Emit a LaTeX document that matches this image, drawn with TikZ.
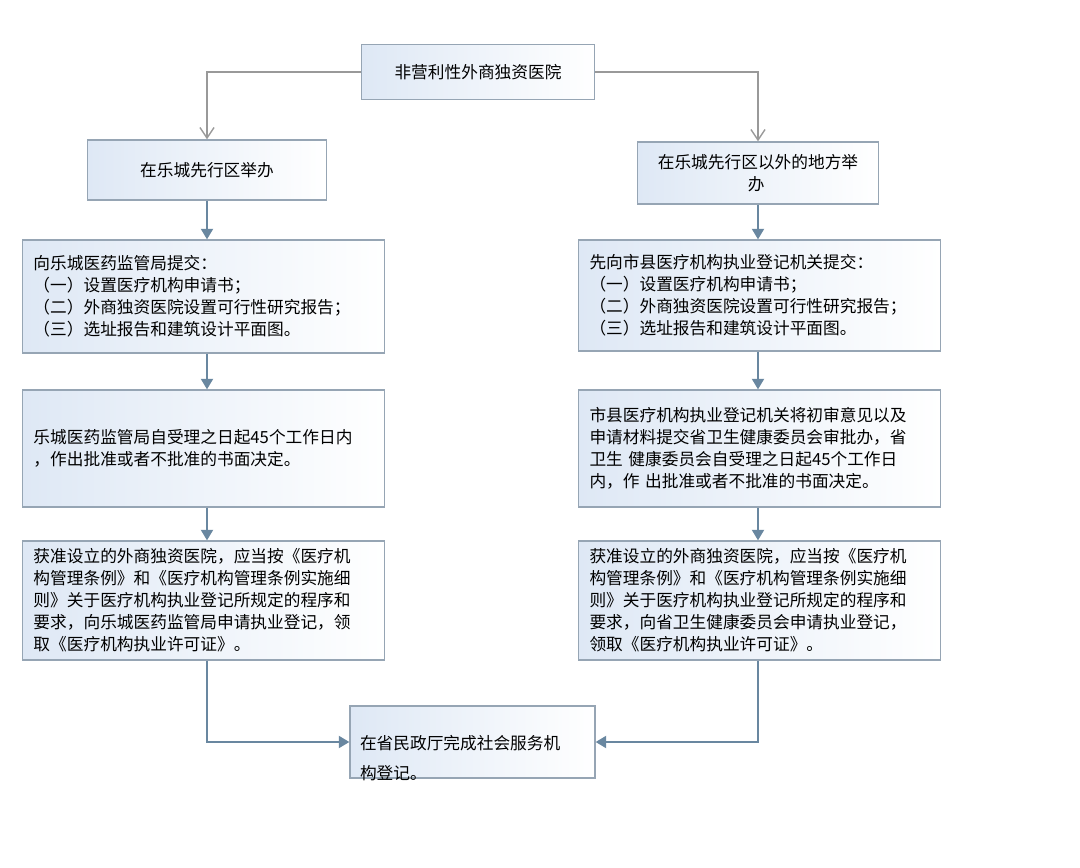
\documentclass[tikz,border=0pt]{standalone}
\usepackage{fontspec}
\setmainfont{Noto Sans CJK SC}
\usetikzlibrary{arrows.meta}
\definecolor{boxline}{RGB}{150,165,180}
\definecolor{boxfill}{RGB}{222,232,245}
\definecolor{arrowline}{RGB}{105,135,160}
\begin{document}
\begin{tikzpicture}[
    x=0.02cm, y=-0.02cm,
    every node/.style = {font=\fontsize{9.5}{12.5}\selectfont},
    stepbox/.style = {draw=boxline, thick, left color=boxfill, right color=white, inner sep=0pt},
    textbox/.style = {stepbox, align=left, text width=#1},
    openarrow/.style = {draw=gray!80, thick, -{Straight Barb[length=6pt,width=8pt]}},
    fillarrow/.style = {draw=arrowline, thick, -{Triangle[length=6pt,width=7pt]}}
    ]
    \useasboundingbox (0,0) rectangle (1080,867);
    % top and second row
    \node[stepbox, minimum width=233*0.02cm, minimum height=55*0.02cm] (hosp) at (478,72) {非营利性外商独资医院};
    \node[stepbox, minimum width=239*0.02cm, minimum height=60*0.02cm] (inLC) at (207,170) {在乐城先行区举办};
    \node[stepbox, minimum width=241*0.02cm, minimum height=62*0.02cm, align=left] (outLC) at (758,173) {在乐城先行区以外的地方举\\\hspace*{5.4em}办};
    % left column
    \node[textbox=340*0.02cm, minimum height=113*0.02cm, inner xsep=11*0.02cm] (subL) at (203.5,296.5)
        {向乐城医药监管局提交：\\（一）设置医疗机构申请书；\\（二）外商独资医院设置可行性研究报告；\\（三）选址报告和建筑设计平面图。};
    \node[textbox=340*0.02cm, minimum height=117*0.02cm, inner xsep=11*0.02cm] (decL) at (203.5,448.5)
        {乐城医药监管局自受理之日起45个工作日内\\，作出批准或者不批准的书面决定。};
    \node[textbox=340*0.02cm, minimum height=119*0.02cm, inner xsep=11*0.02cm] (regL) at (203.5,600.5)
        {获准设立的外商独资医院，应当按《医疗机\\构管理条例》和《医疗机构管理条例实施细\\则》关于医疗机构执业登记所规定的程序和\\要求，向乐城医药监管局申请执业登记，领\\取《医疗机构执业许可证》。};
    % right column
    \node[textbox=340*0.02cm, minimum height=111*0.02cm, inner xsep=11*0.02cm] (subR) at (759.5,295.5)
        {先向市县医疗机构执业登记机关提交：\\（一）设置医疗机构申请书；\\（二）外商独资医院设置可行性研究报告；\\（三）选址报告和建筑设计平面图。};
    \node[textbox=340*0.02cm, minimum height=117*0.02cm, inner xsep=11*0.02cm] (decR) at (759.5,448.5)
        {市县医疗机构执业登记机关将初审意见以及\\申请材料提交省卫生健康委员会审批办，省\\卫生 健康委员会自受理之日起45个工作日\\内，作 出批准或者不批准的书面决定。};
    \node[textbox=340*0.02cm, minimum height=119*0.02cm, inner xsep=11*0.02cm] (regR) at (759.5,600.5)
        {获准设立的外商独资医院，应当按《医疗机\\构管理条例》和《医疗机构管理条例实施细\\则》关于医疗机构执业登记所规定的程序和\\要求，向省卫生健康委员会申请执业登记，\\领取《医疗机构执业许可证》。};
    % bottom
    \node[textbox=225*0.02cm, minimum height=72*0.02cm, inner xsep=10*0.02cm, text depth=0pt] (civil) at (472.5,742)
        {在省民政厅完成社会服务机\\[0.5em]构登记。};
    % connectors
    \draw[openarrow] (hosp.west) -| (inLC.north);
    \draw[openarrow] (hosp.east) -| (outLC.north);
    \draw[fillarrow] (inLC.south) -- (subL.north -| inLC.south);
    \draw[fillarrow] (outLC.south) -- (subR.north -| outLC.south);
    \draw[fillarrow] (subL.south -| inLC.south) -- (decL.north -| inLC.south);
    \draw[fillarrow] (decL.south -| inLC.south) -- (regL.north -| inLC.south);
    \draw[fillarrow] (subR.south -| outLC.south) -- (decR.north -| outLC.south);
    \draw[fillarrow] (decR.south -| outLC.south) -- (regR.north -| outLC.south);
    \draw[fillarrow] (regL.south -| inLC.south) |- (civil.west);
    \draw[fillarrow] (regR.south -| outLC.south) |- (civil.east);
\end{tikzpicture}
\end{document}
